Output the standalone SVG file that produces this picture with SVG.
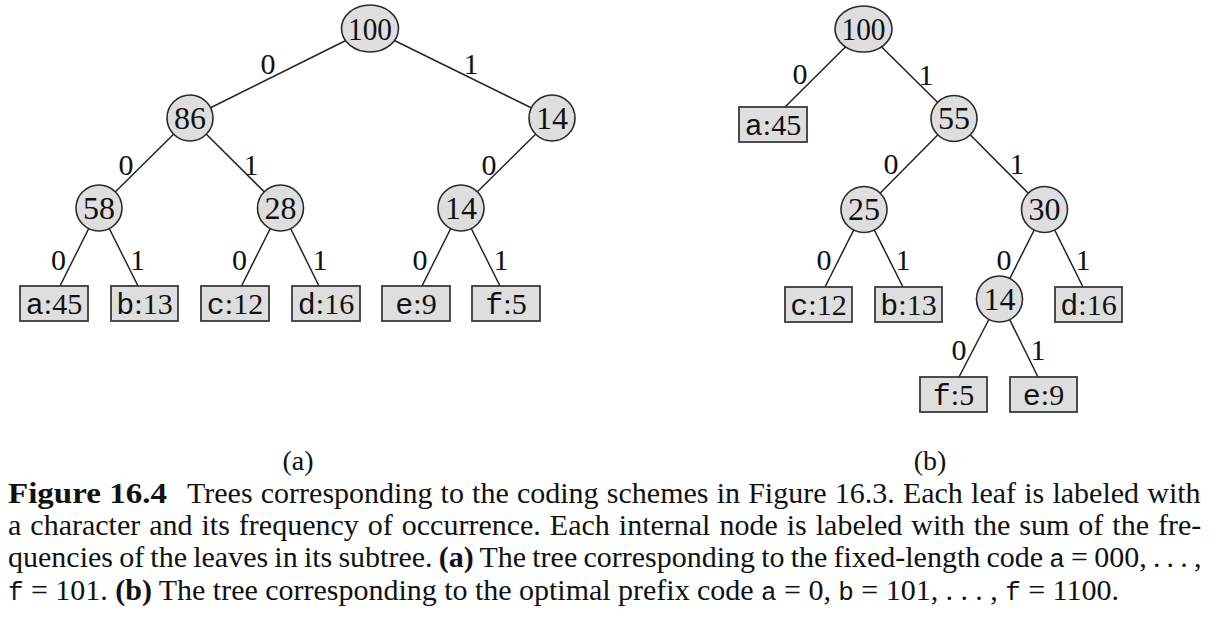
<svg xmlns="http://www.w3.org/2000/svg" width="1213" height="631" viewBox="0 0 1213 631">
<style>
.bg{fill:#ffffff}
.e{stroke:#222;stroke-width:1.5;fill:none}
.n{fill:#dedede;stroke:#2a2a2a;stroke-width:1.6}
.lf{fill:#dedede;stroke:#3a3a3a;stroke-width:1.8}
.sf{font-family:'Liberation Serif','Times New Roman',Times,serif}
.tt{font-family:'Liberation Mono','Courier New',monospace}
.ct{font-family:'Liberation Mono','Courier New',monospace;font-size:26px}
.nt{font-size:32px;fill:#111;text-anchor:middle}
.el{font-size:30px;fill:#111;text-anchor:middle}
.lt{font-size:30px;fill:#111;text-anchor:middle}
.cap{font-size:30px;fill:#111}
.sub{font-size:28px;fill:#111;text-anchor:middle}
.b{font-weight:bold}
</style>
<rect class="bg" x="0" y="0" width="1213" height="631"/>
<g id="connectors">
<line class="e" x1="370" y1="28.5" x2="190" y2="118"/>
<line class="e" x1="370" y1="28.5" x2="552" y2="118"/>
<line class="e" x1="190" y1="118" x2="99" y2="208"/>
<line class="e" x1="190" y1="118" x2="280.5" y2="208"/>
<line class="e" x1="552" y1="118" x2="461" y2="208"/>
<line class="e" x1="99" y1="208" x2="60" y2="286"/>
<line class="e" x1="99" y1="208" x2="138" y2="286"/>
<line class="e" x1="280.5" y1="208" x2="241.5" y2="286"/>
<line class="e" x1="280.5" y1="208" x2="319" y2="286"/>
<line class="e" x1="461" y1="208" x2="422" y2="286"/>
<line class="e" x1="461" y1="208" x2="500" y2="286"/>
<line class="e" x1="863.5" y1="29" x2="785" y2="107"/>
<line class="e" x1="863.5" y1="29" x2="954" y2="118.5"/>
<line class="e" x1="954" y1="118.5" x2="864" y2="209.5"/>
<line class="e" x1="954" y1="118.5" x2="1044.5" y2="209.5"/>
<line class="e" x1="864" y1="209.5" x2="825" y2="287"/>
<line class="e" x1="864" y1="209.5" x2="903" y2="287"/>
<line class="e" x1="1044.5" y1="209.5" x2="999.5" y2="299"/>
<line class="e" x1="1044.5" y1="209.5" x2="1083" y2="287"/>
<line class="e" x1="999.5" y1="299" x2="959" y2="377"/>
<line class="e" x1="999.5" y1="299" x2="1038" y2="377"/>
</g>
<g class="sf">
<g id="edge-labels">
<text class="el" x="268" y="73.5">0</text>
<text class="el" x="471" y="73.5">1</text>
<text class="el" x="126" y="174.5">0</text>
<text class="el" x="251" y="174.5">1</text>
<text class="el" x="489" y="174.5">0</text>
<text class="el" x="58.5" y="269.5">0</text>
<text class="el" x="137.5" y="269.5">1</text>
<text class="el" x="239.5" y="269.5">0</text>
<text class="el" x="320" y="269.5">1</text>
<text class="el" x="420" y="269.5">0</text>
<text class="el" x="501" y="269.5">1</text>
<text class="el" x="800" y="83.5">0</text>
<text class="el" x="926" y="84.5">1</text>
<text class="el" x="891" y="173.5">0</text>
<text class="el" x="1017" y="173.5">1</text>
<text class="el" x="824" y="269.5">0</text>
<text class="el" x="903" y="269.5">1</text>
<text class="el" x="1004" y="269.5">0</text>
<text class="el" x="1083" y="269.5">1</text>
<text class="el" x="959" y="359.5">0</text>
<text class="el" x="1038" y="359.5">1</text>
</g>
<g id="a-n100"><ellipse class="n" cx="370" cy="28.5" rx="28.5" ry="23.5"/><text class="nt" x="370" y="39.5" textLength="44" lengthAdjust="spacingAndGlyphs">100</text></g>
<g id="a-n86"><circle class="n" cx="190" cy="118" r="23"/><text class="nt" x="190" y="128.5">86</text></g>
<g id="a-n14r"><circle class="n" cx="552" cy="118" r="23"/><text class="nt" x="552" y="128.5">14</text></g>
<g id="a-n58"><circle class="n" cx="99" cy="208" r="23"/><text class="nt" x="99" y="218.5">58</text></g>
<g id="a-n28"><circle class="n" cx="280.5" cy="208" r="23"/><text class="nt" x="280.5" y="218.5">28</text></g>
<g id="a-n14l"><circle class="n" cx="461" cy="208" r="23"/><text class="nt" x="461" y="218.5">14</text></g>
<g id="a-la"><rect class="lf" x="20" y="286" width="68" height="35"/><text class="lt" x="54" y="313.5"><tspan class="tt">a</tspan>:45</text></g>
<g id="a-lb"><rect class="lf" x="111" y="286" width="67" height="35"/><text class="lt" x="144.5" y="313.5"><tspan class="tt">b</tspan>:13</text></g>
<g id="a-lc"><rect class="lf" x="201" y="286" width="68" height="35"/><text class="lt" x="235" y="313.5"><tspan class="tt">c</tspan>:12</text></g>
<g id="a-ld"><rect class="lf" x="292" y="286" width="68" height="35"/><text class="lt" x="326" y="313.5"><tspan class="tt">d</tspan>:16</text></g>
<g id="a-le"><rect class="lf" x="382" y="286" width="68" height="35"/><text class="lt" x="416" y="313.5"><tspan class="tt">e</tspan>:9</text></g>
<g id="a-lf"><rect class="lf" x="472" y="286" width="68" height="35"/><text class="lt" x="506" y="313.5"><tspan class="tt">f</tspan>:5</text></g>
<g id="b-n100"><ellipse class="n" cx="863.5" cy="29" rx="28.5" ry="23"/><text class="nt" x="863.5" y="40" textLength="44" lengthAdjust="spacingAndGlyphs">100</text></g>
<g id="b-n55"><circle class="n" cx="954" cy="118.5" r="23"/><text class="nt" x="954" y="129">55</text></g>
<g id="b-n25"><circle class="n" cx="864" cy="209.5" r="23"/><text class="nt" x="864" y="220">25</text></g>
<g id="b-n30"><circle class="n" cx="1044.5" cy="209.5" r="23"/><text class="nt" x="1044.5" y="220">30</text></g>
<g id="b-n14"><circle class="n" cx="999.5" cy="299" r="23"/><text class="nt" x="999.5" y="309.5">14</text></g>
<g id="b-la"><rect class="lf" x="739" y="107" width="68" height="35"/><text class="lt" x="773" y="134.5"><tspan class="tt">a</tspan>:45</text></g>
<g id="b-lc"><rect class="lf" x="785" y="287" width="67" height="35"/><text class="lt" x="818.5" y="314.5"><tspan class="tt">c</tspan>:12</text></g>
<g id="b-lb"><rect class="lf" x="875" y="287" width="67" height="35"/><text class="lt" x="908.5" y="314.5"><tspan class="tt">b</tspan>:13</text></g>
<g id="b-ld"><rect class="lf" x="1055" y="287" width="67" height="35"/><text class="lt" x="1088.5" y="314.5"><tspan class="tt">d</tspan>:16</text></g>
<g id="b-lf"><rect class="lf" x="920" y="377" width="67" height="35"/><text class="lt" x="953.5" y="404.5"><tspan class="tt">f</tspan>:5</text></g>
<g id="b-le"><rect class="lf" x="1010" y="377" width="67" height="35"/><text class="lt" x="1043.5" y="404.5"><tspan class="tt">e</tspan>:9</text></g>
<g id="caption">
<text class="sub" x="298" y="469.5">(a)</text>
<text class="sub" x="930" y="469.5">(b)</text>
<text class="cap b" x="8" y="503" textLength="159" lengthAdjust="spacingAndGlyphs">Figure 16.4</text>
<text class="cap" x="187" y="503" word-spacing="0.7">Trees corresponding to the coding schemes in Figure 16.3. Each leaf is labeled with</text>
<text class="cap" x="8" y="535" word-spacing="1.5">a character and its frequency of occurrence. Each internal node is labeled with the sum of the fre-</text>
<text class="cap" x="8" y="567" word-spacing="-1.3">quencies of the leaves in its subtree. <tspan class="b">(a)</tspan> The tree corresponding to the fixed-length code <tspan class="ct">a</tspan> = 000, . . . ,</text>
<text class="cap" x="8" y="600" word-spacing="-0.1"><tspan class="ct">f</tspan> = 101. <tspan class="b">(b)</tspan> The tree corresponding to the optimal prefix code <tspan class="ct">a</tspan> = 0, <tspan class="ct">b</tspan> = 101, . . . , <tspan class="ct">f</tspan> = 1100.</text>
</g>
</g>
</svg>
